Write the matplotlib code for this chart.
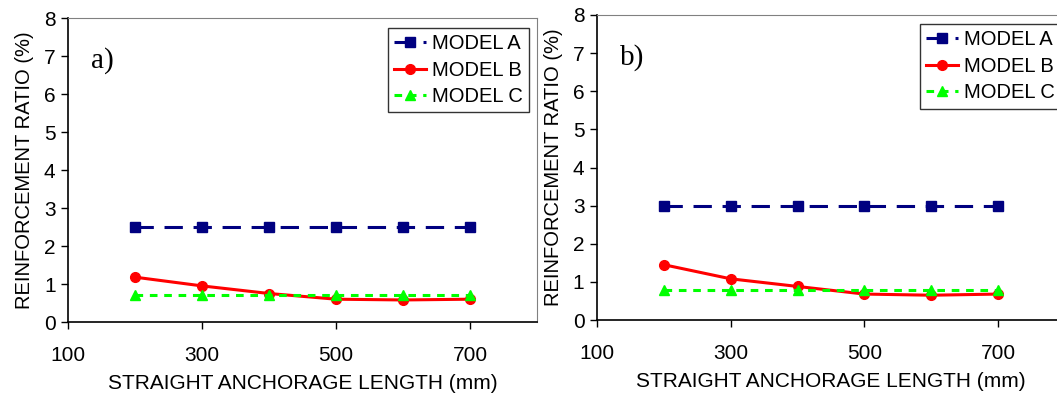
import matplotlib
matplotlib.use("Agg")
import matplotlib.pyplot as plt

plt.rcParams['font.family'] = ['Liberation Sans', 'DejaVu Sans']

lengths = [200, 300, 400, 500, 600, 700]
a_model_a = [2.5, 2.5, 2.5, 2.5, 2.5, 2.5]
a_model_b = [1.18, 0.95, 0.75, 0.60, 0.58, 0.60]
a_model_c = [0.72, 0.72, 0.72, 0.72, 0.72, 0.72]
b_model_a = [3.0, 3.0, 3.0, 3.0, 3.0, 3.0]
b_model_b = [1.45, 1.08, 0.88, 0.68, 0.65, 0.68]
b_model_c = [0.80, 0.80, 0.80, 0.80, 0.80, 0.80]
x_ticks = [100, 300, 500, 700]
y_ticks = [0, 1, 2, 3, 4, 5, 6, 7, 8]
series_labels = ["MODEL A", "MODEL B", "MODEL C"]
panel_labels = ["a)", "b)"]

W, H = 1057, 393
fig = plt.figure(figsize=(W / 100, H / 100), dpi=100)

def px_axes(l, r, t, b):
    return fig.add_axes([l / W, 1 - b / H, (r - l) / W, (b - t) / H])

ax_a = px_axes(68, 537, 18, 322)
ax_b = px_axes(597, 1065, 15, 320)

def draw(ax, ya, yb, yc, label, legend_kw):
    ax.plot(lengths, ya, color='#000080', linestyle=(0, (6, 3.5)), linewidth=2.2,
            marker='s', markersize=6.5, label=series_labels[0])
    ax.plot(lengths, yb, color='#ff0000', linestyle='-', linewidth=2.2,
            marker='o', markersize=7, label=series_labels[1])
    ax.plot(lengths, yc, color='#00ff00', linestyle=(0, (2.5, 2.2)), linewidth=2.2,
            marker='^', markersize=7.5, label=series_labels[2])
    ax.set_xlim(100, 800)
    ax.set_ylim(0, 8)
    ax.set_xticks(x_ticks)
    ax.set_yticks(y_ticks)
    ax.tick_params(direction='out', length=5, width=1, labelsize=15, colors='black')
    ax.tick_params(axis='x', pad=12)
    ax.tick_params(axis='y', pad=4)
    ax.spines['left'].set_color('black')
    ax.spines['bottom'].set_color('black')
    ax.spines['left'].set_linewidth(1.2)
    ax.spines['bottom'].set_linewidth(1.2)
    ax.spines['top'].set_color('#808080')
    ax.spines['right'].set_color('#808080')
    ax.set_xlabel("STRAIGHT ANCHORAGE LENGTH (mm)", fontsize=15, labelpad=7)
    ax.set_ylabel("REINFORCEMENT RATIO (%)", fontsize=14.5, labelpad=7)
    ax.text(0.05, 0.905, label, transform=ax.transAxes, fontsize=21,
            family=['Liberation Serif', 'DejaVu Serif'], va='top', ha='left')
    leg = ax.legend(fontsize=14.5, frameon=True, fancybox=False, edgecolor='black',
                    handlelength=1.6, handletextpad=0.3, borderpad=0.3,
                    labelspacing=0.38, borderaxespad=0, **legend_kw)
    leg.get_frame().set_linewidth(1.0)

draw(ax_a, a_model_a, a_model_b, a_model_c, panel_labels[0],
     dict(loc='upper right', bbox_to_anchor=(0.983, 0.967)))
draw(ax_b, b_model_a, b_model_b, b_model_c, panel_labels[1],
     dict(loc='upper left', bbox_to_anchor=(0.690, 0.970)))

fig.savefig("out.png", dpi=100)
